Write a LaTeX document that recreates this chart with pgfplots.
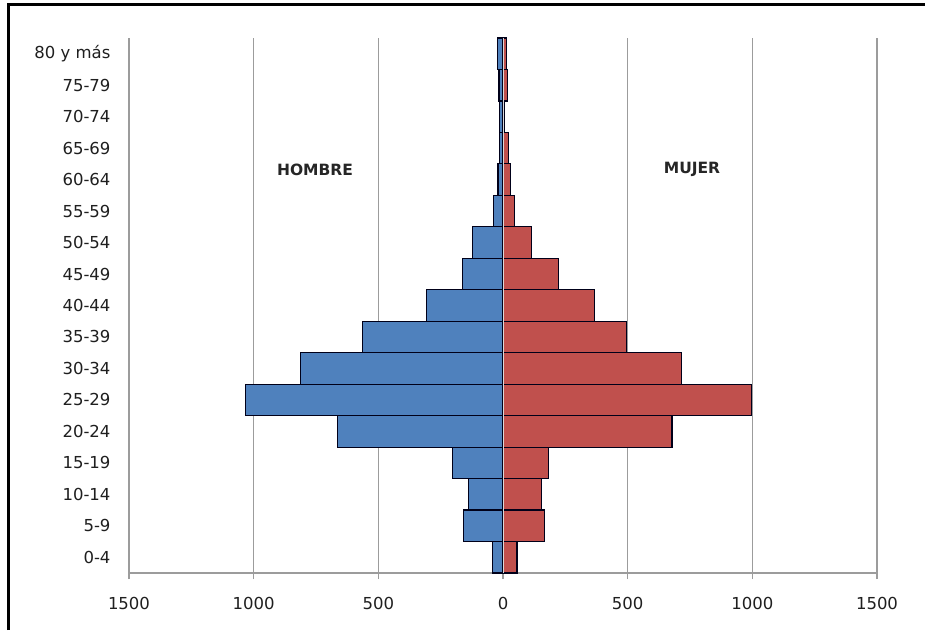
\documentclass[border=0pt]{standalone}
\usepackage{pgfplots}
\pgfplotsset{compat=1.18}
\usepackage{fontspec}
\setmainfont{DejaVu Sans}
\definecolor{hombre}{HTML}{4F81BD}
\definecolor{mujer}{HTML}{C0504D}
\definecolor{rejilla}{HTML}{9C9C9C}
\begin{document}
\begin{tikzpicture}[x=1pt,y=1pt]
\useasboundingbox (0,0) rectangle (925,630);
\fill[white] (0,0) rectangle (925,630);
\draw[line width=3pt] (8,0) -- (8,625) -- (926,625);
\begin{axis}[
  at={(129pt,57pt)}, anchor=south west,
  width=748pt, height=535pt, scale only axis,
  xmin=-1500, xmax=1500, ymin=-0.5, ymax=16.5,
  xbar, bar width=1, bar shift=0pt,
  axis x line*=bottom, axis y line*=left,
  y axis line style={draw=none},
  x axis line style={draw=rejilla, line width=1.2pt},
  xmajorgrids, grid style={draw=rejilla, line width=1.2pt},
  xtick={-1500,-1000,-500,0,500,1000,1500},
  xticklabels={1500,1000,500,0,500,1000,1500},
  xtick align=outside, major tick length=6pt,
  xtick style={draw=rejilla, line width=1.2pt},
  ytick={0,...,16},
  yticklabels={0-4,5-9,10-14,15-19,20-24,25-29,30-34,35-39,40-44,45-49,50-54,55-59,60-64,65-69,70-74,75-79,80 y más},
  ytick style={draw=none},
  tick label style={font=\fontsize{16.5}{19}\selectfont, text=black!88},
  xticklabel style={yshift=-15pt},
  yticklabel style={xshift=-9pt},
]
% hombres (negativos)
\addplot[fill=hombre, draw=black!90!blue, line width=1.2pt] coordinates {
  (-43,0) (-160,1) (-138,2) (-204,3) (-664,4) (-1033,5) (-811,6) (-564,7)
  (-306,8) (-163,9) (-121,10) (-38,11) (-20,12) (-13,13) (-13,14) (-16,15) (-22,16)
};
% mujeres
\addplot[fill=mujer, draw=black!90!blue, line width=1.2pt] coordinates {
  (56,0) (165,1) (155,2) (181,3) (678,4) (996,5) (717,6) (496,7)
  (368,8) (221,9) (115,10) (45,11) (31,12) (23,13) (7,14) (18,15) (14,16)
};
% linea clara en el eje central
\draw[black!15, line width=1pt] (axis cs:0,-0.5) -- (axis cs:0,16.5);
\node[font=\fontsize{15.5}{18}\bfseries\selectfont, text=black!85] at (axis cs:-754,12.31) {HOMBRE};
\node[font=\fontsize{15.5}{18}\bfseries\selectfont, text=black!85] at (axis cs:758,12.31) {MUJER};
\end{axis}
\end{tikzpicture}
\end{document}
